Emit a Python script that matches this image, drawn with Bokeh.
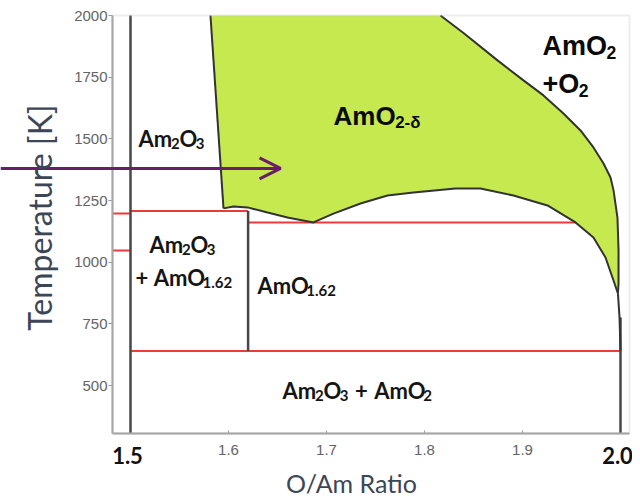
from bokeh.plotting import figure
from bokeh.models import Range1d, FixedTicker, Label, Arrow, OpenHead, LinearAxis, BoxAnnotation
from bokeh.embed import file_html
from bokeh.resources import INLINE

# ---------------- data ----------------
x_ticks = [1.6, 1.7, 1.8, 1.9]
y_ticks = [500, 750, 1000, 1250, 1500, 1750, 2000]
x_end_ticks = [1.5, 2.0]
x_end_labels = ["1.5", "2.0"]

# AmO2-delta region boundaries (O/Am ratio, temperature K)
left_bx = [1.5816, 1.5949]
left_bt = [2000, 1218]
upper_x = [1.8163, 1.8398, 1.8745, 1.9010, 1.9214, 1.9418, 1.9592, 1.9724, 1.9827,
           1.9898, 1.9929, 1.9969, 1.9980, 1.9980, 1.9974]
upper_t = [2000, 1929, 1818, 1737, 1676, 1603, 1534, 1465, 1400,
           1343, 1291, 1181, 1047, 914, 873]
lower_x = [1.5949, 1.6051, 1.6194, 1.6398, 1.6602, 1.6867, 1.7071, 1.7347, 1.7622,
           1.7888, 1.8316, 1.8571, 1.8908, 1.9255, 1.9541, 1.9724, 1.9847, 1.9918, 1.9974]
lower_t = [1218, 1226, 1222, 1201, 1181, 1161, 1197, 1238, 1270,
           1282, 1299, 1299, 1270, 1230, 1161, 1100, 1019, 938, 873]
tail_x = [1.9974, 1.9990, 2.0]
tail_t = [873, 776, 642]

# vertical phase boundaries
vert_x = [1.5, 1.62, 2.0]
vert_t0 = [None, 640, None]      # None -> bottom of the axes box
vert_t1 = [2000, 1207, 776]

# red isotherms (None -> left edge of the axes box)
iso_x0 = [None, 1.5, None, 1.62, 1.5]
iso_x1 = [1.5, 1.62, 1.5, 1.954, 2.0]
iso_t = [1197, 1207, 1047, 1161, 640]

# ---------------- geometry ----------------
W, H = 632, 503
PX_X = 980.0            # pixels per unit O/Am
K_PX = 1500.0 / 370.0   # kelvin per pixel
X0_PX, T0_PX = 130, 15  # pixel of O/Am=1.5 and of T=2000


def xd(px):
    return 1.5 + (px - X0_PX) / PX_X


def td(py):
    return 2000 - (py - T0_PX) * K_PX


x_min, x_max = xd(112), xd(629)
t_min, t_max = td(433), 2000

p = figure(width=W, height=H, output_backend="svg", toolbar_location=None,
           x_range=Range1d(xd(0), xd(W)), y_range=Range1d(td(H), td(0)),
           x_axis_location=None, y_axis_location=None,
           min_border=0, min_border_left=0, min_border_right=0,
           min_border_top=0, min_border_bottom=0)
p.background_fill_color = "white"
p.border_fill_color = "white"
p.outline_line_color = None
p.grid.visible = False

vert_t0 = [t_min if v is None else v for v in vert_t0]
iso_x0 = [x_min if v is None else v for v in iso_x0]

# green region
poly_x = left_bx + lower_x[1:] + upper_x[::-1][1:]
poly_t = left_bt + lower_t[1:] + upper_t[::-1][1:]
p.patch(poly_x, poly_t, fill_color="#c6e94f", line_color=None)

# red isotherms
p.segment(x0=iso_x0, y0=iso_t, x1=iso_x1, y1=iso_t, line_color="#f03a3a", line_width=2)

# boundaries
p.segment(x0=vert_x, y0=vert_t0, x1=vert_x, y1=vert_t1, line_color="#474747", line_width=2.5)
p.line(left_bx, left_bt, line_color="#333333", line_width=2)
p.line(upper_x, upper_t, line_color="#333333", line_width=2)
p.line(lower_x, lower_t, line_color="#333333", line_width=2)
p.line(tail_x, tail_t, line_color="#333333", line_width=2)

# axes box
p.add_layout(BoxAnnotation(left=x_min, right=x_max, bottom=t_min, top=t_max,
                           fill_alpha=0, line_color="#c2c2c2", line_width=2))

xaxis = LinearAxis(fixed_location=t_min, bounds=(x_min, x_max), ticker=FixedTicker(ticks=x_ticks))
yaxis = LinearAxis(fixed_location=x_min, bounds=(t_min, t_max), ticker=FixedTicker(ticks=y_ticks))
for ax in (xaxis, yaxis):
    ax.axis_line_color = "#9a9a9a"
    ax.axis_line_width = 2
    ax.major_tick_line_color = "#9a9a9a"
    ax.minor_tick_line_color = None
    ax.major_label_text_font = "Liberation Sans"
    ax.major_label_text_font_size = "15px"
    ax.major_label_text_color = "#646464"
yaxis.major_tick_out = 4
yaxis.major_tick_in = 0
yaxis.major_label_standoff = 1
xaxis.major_tick_out = 0
xaxis.major_tick_in = 3
xaxis.major_label_standoff = 11
p.add_layout(xaxis, "below")
p.add_layout(yaxis, "left")

# arrow
p.add_layout(Arrow(x_start=xd(0), y_start=1380, x_end=1.6531, y_end=1380,
                   line_color="#6b1c6b", line_width=3,
                   end=OpenHead(size=21, line_color="#6b1c6b", line_width=3)))

W_LATO = {"A": 0.65, "m": 0.83, "O": 0.74, ".": 0.24, "+": 0.58, " ": 0.26, "-": 0.37}
W_ARIAL = {"A": 0.722, "m": 0.889, "O": 0.76, ".": 0.278, "+": 0.584, " ": 0.278,
           "-": 0.333, "δ": 0.61}


def chem(px, py_base, parts, size, font, widths, color="#151515", sub_scale=0.68):
    """Formula label; parts are (text, is_subscript, gap_before_em)."""
    off = 0.0
    for txt, sub, gap in parts:
        fs = size * sub_scale if sub else size
        off += gap * size
        # middle of the text sits ~0.36 em above its baseline
        yo = 0.36 * fs - (0.12 * size if sub else 0)
        p.add_layout(Label(x=xd(px), y=td(py_base), x_offset=off, y_offset=yo,
                           text=txt, text_font=font, text_font_size=f"{fs:.1f}px",
                           text_font_style="bold", text_color=color,
                           text_baseline="middle", text_align="left"))
        off += sum(widths.get(c, 0.57) for c in txt) * fs


AM2O3 = [("Am", 0, 0), ("2", 1, 0), ("O", 0, 0), ("3", 1, 0)]
chem(138, 146, AM2O3, 22, "Lato", W_LATO)
chem(149, 252, AM2O3, 22, "Lato", W_LATO)
chem(135, 285, [("+", 0, 0), ("AmO", 0, 0.25), ("1.62", 1, 0)], 22, "Lato", W_LATO)
chem(257, 293, [("AmO", 0, 0), ("1.62", 1, 0)], 22, "Lato", W_LATO)
chem(282, 398, AM2O3 + [("+", 0, 0.3), ("AmO", 0, 0.3), ("2", 1, 0)], 22, "Lato", W_LATO)
chem(333, 125, [("AmO", 0, 0), ("2-δ", 1, 0)], 26, "Liberation Sans", W_ARIAL,
     color="#0a0a0a", sub_scale=0.65)
chem(542, 55, [("AmO", 0, 0), ("2", 1, 0)], 27, "Liberation Sans", W_ARIAL,
     color="#0a0a0a", sub_scale=0.65)
chem(542, 93, [("+O", 0, 0), ("2", 1, 0)], 27, "Liberation Sans", W_ARIAL,
     color="#0a0a0a", sub_scale=0.65)

# bold end tick labels
for xv, txt in zip(x_end_ticks, x_end_labels):
    p.add_layout(Label(x=xv, y=td(455), x_offset=-3, text=txt, text_font="Lato",
                       text_font_style="bold", text_font_size="22px", text_color="#111111",
                       text_align="center", text_baseline="middle"))

# axis titles
p.add_layout(Label(x=xd(39), y=td(217), text="Temperature [K]", angle=1.5708,
                   text_font="Lato", text_font_size="32px", text_color="#3c4656",
                   text_align="center", text_baseline="middle"))
p.add_layout(Label(x=xd(351), y=td(482), text="O/Am Ratio",
                   text_font="Lato", text_font_size="25px", text_color="#3c4656",
                   text_align="center", text_baseline="middle"))

open("out.html", "w").write(file_html(p, INLINE))
